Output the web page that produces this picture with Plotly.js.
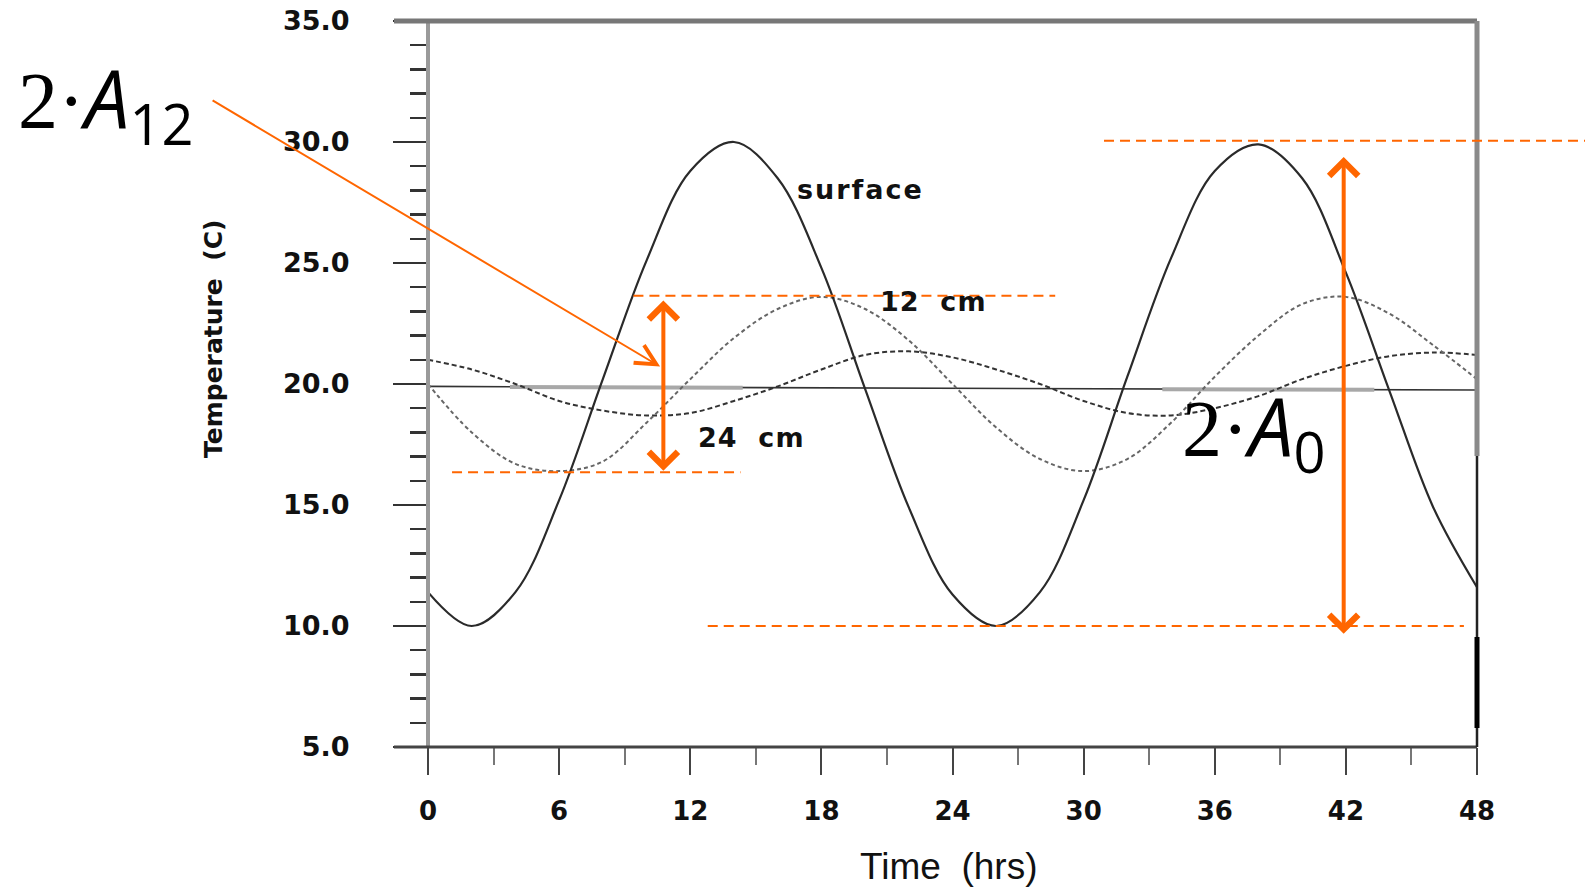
<!DOCTYPE html>
<html><head><meta charset="utf-8">
<script src="https://cdn.plot.ly/plotly-3.0.1.min.js"></script>
<style>html,body{margin:0;padding:0;background:#fff;} #chart{width:1585px;height:887px;}</style>
</head><body><div id="chart"></div>
<script>
// ---- data ----
const hours = [0,2,4,6,8,10,12,14,16,18,20,22,24,26,28,30,32,34,36,38,40,42,44,46,48];
const surfaceTemp = [11.4,10.0,11.4,15.2,20.2,25.1,28.8,30.0,28.5,24.8,19.8,14.9,11.3,10.0,11.4,15.2,20.3,25.2,28.8,29.9,28.5,24.6,19.7,14.9,11.6];
const temp12cm   = [20.0,18.0,16.7,16.4,16.8,18.4,20.2,21.9,23.1,23.6,23.1,21.8,20.0,18.2,16.9,16.4,16.9,18.4,20.3,22.0,23.3,23.6,22.9,21.6,20.2];
const temp24cm   = [21.0,20.6,20.0,19.3,18.9,18.7,18.8,19.3,19.9,20.6,21.2,21.35,21.1,20.6,20.0,19.3,18.8,18.7,19.0,19.5,20.2,20.75,21.15,21.3,21.2];
const meanLineX = [0,48];
const meanLineY = [19.9,19.75];
const xTickVals = [0,6,12,18,24,30,36,42,48];
const xTickText = ['0','6','12','18','24','30','36','42','48'];
const yTickVals = [5,10,15,20,25,30,35];
const yTickText = ['5.0','10.0','15.0','20.0','25.0','30.0','35.0'];
// amplitude markers (°C) and the hours where they are drawn
const amp12Levels = [23.65,16.35];
const amp12ArrowEnds = [23.45,16.35];
const amp12Hour = 10.77;
const amp0Levels = [30.05,10.0];
const amp0ArrowEnds = [29.38,9.62];
const amp0Hour = 41.9;

const ORANGE = '#FF6600';
const NB = '\u00A0';

const traces = [
  {x: meanLineX, y: meanLineY, mode:'lines', line:{color:'#333', width:1.6}, hoverinfo:'skip'},
  {x: [3.75,14.4], y: [19.88,19.85], mode:'lines', line:{color:'#a8a8a8', width:4}, hoverinfo:'skip'},
  {x: [33.6,43.3], y: [19.78,19.76], mode:'lines', line:{color:'#a8a8a8', width:4}, hoverinfo:'skip'},
  {x: hours, y: temp24cm, mode:'lines', line:{color:'#333', width:2, dash:'5px,3px', shape:'spline', smoothing:1}, name:'24 cm'},
  {x: hours, y: temp12cm, mode:'lines', line:{color:'#666', width:2, dash:'4px,3px', shape:'spline', smoothing:1}, name:'12 cm'},
  {x: hours, y: surfaceTemp, mode:'lines', line:{color:'#2a2a2a', width:2.2, shape:'spline', smoothing:1}, name:'surface'}
];

const px = p => (p-428)/1049;
const py = p => (747-p)/726;

const shapes = [
  // frame
  {type:'line', xref:'paper', yref:'paper', x0:0, x1:0, y0:0, y1:1, line:{color:'#9a9a9a', width:4}},
  {type:'line', xref:'paper', yref:'paper', x0:px(394), x1:1, y0:1, y1:1, line:{color:'#777', width:5}},
  {type:'line', xref:'paper', yref:'paper', x0:px(394), x1:1, y0:0, y1:0, line:{color:'#444', width:3}},
  {type:'line', xref:'paper', yref:'paper', x0:1, x1:1, y0:py(456), y1:1, line:{color:'#8a8a8a', width:5}},
  {type:'line', xref:'paper', yref:'paper', x0:1, x1:1, y0:0, y1:py(456), line:{color:'#222', width:2.5}},
  {type:'line', xref:'paper', yref:'paper', x0:1, x1:1, y0:py(728), y1:py(637), line:{color:'#000', width:5}},
  // orange dashed amplitude levels
  {type:'line', xref:'x', yref:'y', x0:9.4, x1:28.7, y0:amp12Levels[0], y1:amp12Levels[0], line:{color:ORANGE, width:2, dash:'10px,6px'}},
  {type:'line', xref:'x', yref:'y', x0:1.1, x1:14.3, y0:amp12Levels[1], y1:amp12Levels[1], line:{color:ORANGE, width:2, dash:'10px,6px'}},
  {type:'line', xref:'paper', yref:'y', x0:px(1104), x1:px(1585), y0:amp0Levels[0], y1:amp0Levels[0], line:{color:ORANGE, width:2, dash:'10px,6px'}},
  {type:'line', xref:'x', yref:'y', x0:12.8, x1:47.4, y0:amp0Levels[1], y1:amp0Levels[1], line:{color:ORANGE, width:2, dash:'10px,6px'}}
];

const labelFont = {family:'DejaVu Sans', size:27, weight:'bold', color:'#111'};
const serif2 = '<span style="font-family:\'Liberation Serif\', serif">2·</span>';
const annotations = [
  // double arrows
  {x:amp12Hour, y:amp12ArrowEnds[0], ax:amp12Hour, ay:amp12ArrowEnds[1], xref:'x', yref:'y', axref:'x', ayref:'y', text:'', showarrow:true,
   arrowside:'end+start', arrowhead:4, startarrowhead:4, arrowsize:1.4, startarrowsize:1.4, arrowwidth:4, arrowcolor:ORANGE},
  {x:amp0Hour, y:amp0ArrowEnds[0], ax:amp0Hour, ay:amp0ArrowEnds[1], xref:'x', yref:'y', axref:'x', ayref:'y', text:'', showarrow:true,
   arrowside:'end+start', arrowhead:4, startarrowhead:4, arrowsize:1.4, startarrowsize:1.4, arrowwidth:4, arrowcolor:ORANGE},
  // pointer from label
  {x:10.62, y:20.72, xref:'x', yref:'y', ax:-449, ay:-267, text:'', showarrow:true, arrowhead:5, arrowsize:2, arrowwidth:2, arrowcolor:ORANGE},
  // curve labels
  {xref:'paper', yref:'paper', x:px(795), y:py(189), xanchor:'left', yanchor:'middle', showarrow:false,
   text:'<span style="letter-spacing:2px">surface</span>', font:labelFont},
  {xref:'paper', yref:'paper', x:px(878), y:py(301), xanchor:'left', yanchor:'middle', showarrow:false,
   text:'<span style="letter-spacing:1px">12'+NB+NB+'cm</span>', font:labelFont},
  {xref:'paper', yref:'paper', x:px(696), y:py(437), xanchor:'left', yanchor:'middle', showarrow:false,
   text:'<span style="letter-spacing:1px">24'+NB+NB+'cm</span>', font:labelFont},
  // amplitude labels
  {xref:'paper', yref:'paper', x:px(16), y:py(102), xanchor:'left', yanchor:'middle', showarrow:false,
   text:serif2+'<i>A</i><sub>12</sub>', font:{family:'Open Sans', size:80, color:'#000'}},
  {xref:'paper', yref:'paper', x:px(1180), y:py(429), xanchor:'left', yanchor:'middle', showarrow:false,
   text:serif2+'<i>A</i><sub>0</sub>', font:{family:'Open Sans', size:80, color:'#000'}},
  // axis titles
  {xref:'paper', yref:'paper', x:px(213), y:py(339), xanchor:'center', yanchor:'middle', showarrow:false, textangle:-90,
   text:'Temperature'+NB+NB+'(C)', font:{family:'DejaVu Sans', size:25, weight:'bold', color:'#111'}},
  {xref:'paper', yref:'paper', x:px(948), y:py(866), xanchor:'center', yanchor:'middle', showarrow:false,
   text:'Time'+NB+NB+'(hrs)', font:{family:'Liberation Sans', size:37, color:'#111'}}
];

const layout = {
  width:1585, height:887,
  margin:{l:428, r:108, t:21, b:140},
  paper_bgcolor:'#fff', plot_bgcolor:'#fff',
  showlegend:false,
  xaxis:{range:[0,48], tickmode:'array', tickvals:xTickVals, ticktext:xTickText,
    ticks:'outside', ticklen:27, tickwidth:2, tickcolor:'#444',
    showline:false, showgrid:false, zeroline:false, ticklabelstandoff:14,
    tickfont:{family:'DejaVu Sans', size:26, weight:'bold', color:'#111'},
    minor:{tickmode:'linear', tick0:0, dtick:3, ticks:'outside', ticklen:17, tickwidth:2, tickcolor:'#777', showgrid:false}},
  yaxis:{range:[5,35], tickmode:'array', tickvals:yTickVals, ticktext:yTickText,
    ticks:'outside', ticklen:34, tickwidth:2.5, tickcolor:'#333',
    showline:false, showgrid:false, zeroline:false, ticklabelstandoff:38,
    tickfont:{family:'DejaVu Sans', size:27, weight:'bold', color:'#111'},
    minor:{tickmode:'linear', tick0:0, dtick:1, ticks:'outside', ticklen:17, tickwidth:2.5, tickcolor:'#333', showgrid:false}},
  shapes:shapes,
  annotations:annotations
};

Plotly.newPlot('chart', traces, layout, {displayModeBar:false, staticPlot:true});
</script>
</body></html>
